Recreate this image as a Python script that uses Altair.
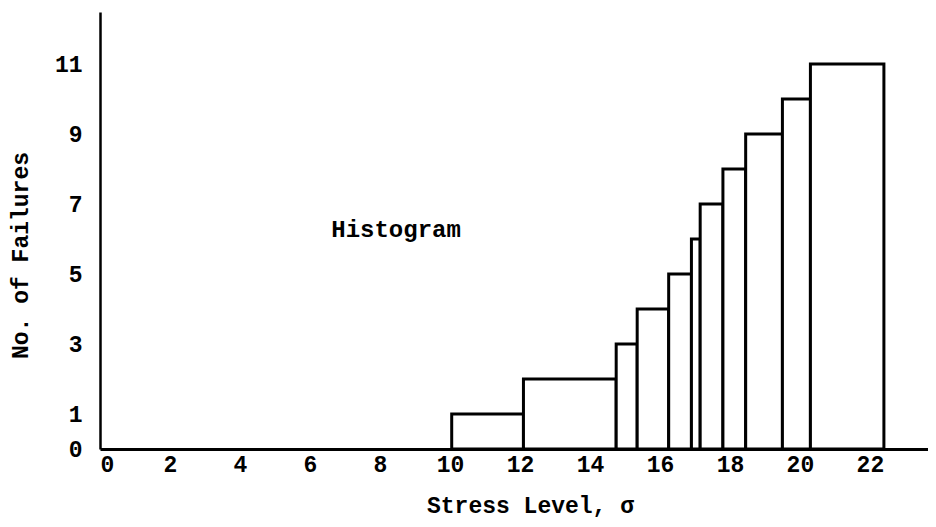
import altair as alt
import pandas as pd

# Histogram bins (stress level edges) and failure counts
bin_left = [10.05, 12.1, 14.75, 15.35, 16.25, 16.9, 17.15, 17.8, 18.45, 19.5, 20.3]
bin_right = [12.1, 14.75, 15.35, 16.25, 16.9, 17.15, 17.8, 18.45, 19.5, 20.3, 22.4]
failures = [1, 2, 3, 4, 5, 6, 7, 8, 9, 10, 11]

x_ticks = [0, 2, 4, 6, 8, 10, 12, 14, 16, 18, 20, 22]
y_ticks = [0, 1, 3, 5, 7, 9, 11]

annotation = ["Histogram"]
annotation_x = [8.46]
annotation_y = [6.26]

FONT = "Liberation Mono"

bars_df = pd.DataFrame({"x0": bin_left, "x1": bin_right, "n": failures, "base": [0] * len(failures)})
text_df = pd.DataFrame({"label": annotation, "x": annotation_x, "y": annotation_y})

xscale = alt.Scale(domain=[0, 23.66], nice=False, zero=False)
yscale = alt.Scale(domain=[0, 12.486], nice=False, zero=False)

xaxis = alt.Axis(
    values=x_ticks, title="Stress Level, σ", ticks=False, grid=False,
    domainColor="black", domainWidth=3, labelFont=FONT, labelFontSize=23,
    labelFontWeight="bold", labelColor="black", labelPadding=4, labelOverlap=False,
    titleFont=FONT, titleFontSize=23, titleFontWeight="bold", titleColor="black",
    titleX=430, titleY=56, titleAlign="center", titleBaseline="middle",
)
yaxis = alt.Axis(
    values=y_ticks, title="No. of Failures", ticks=False, grid=False,
    domainColor="black", domainWidth=2.5, labelFont=FONT, labelFontSize=23,
    labelFontWeight="bold", labelColor="black", labelPadding=18, labelOverlap=False,
    labelBaseline="middle",
    titleFont=FONT, titleFontSize=23, titleFontWeight="bold", titleColor="black",
    titleX=-80, titleY=243, titleAlign="center", titleBaseline="middle", titleAngle=270,
)

bars = alt.Chart(bars_df).mark_rect(fill="white", stroke="black", strokeWidth=3).encode(
    x=alt.X("x0:Q", scale=xscale, axis=xaxis),
    x2="x1:Q",
    y=alt.Y("base:Q", scale=yscale, axis=yaxis),
    y2="n:Q",
)

text = alt.Chart(text_df).mark_text(
    font=FONT, fontSize=24, fontWeight="bold", color="black", align="center", baseline="middle"
).encode(
    x=alt.X("x:Q", scale=xscale),
    y=alt.Y("y:Q", scale=yscale),
    text="label:N",
)

chart = alt.layer(bars, text).properties(
    width=828,
    height=437,
    autosize=alt.AutoSizeParams(type="none"),
    padding={"left": 92, "top": 4, "right": 0, "bottom": 71},
    background="white",
).configure_view(stroke=None)

chart.save("out.html", embed_options={"renderer": "svg", "actions": False})
